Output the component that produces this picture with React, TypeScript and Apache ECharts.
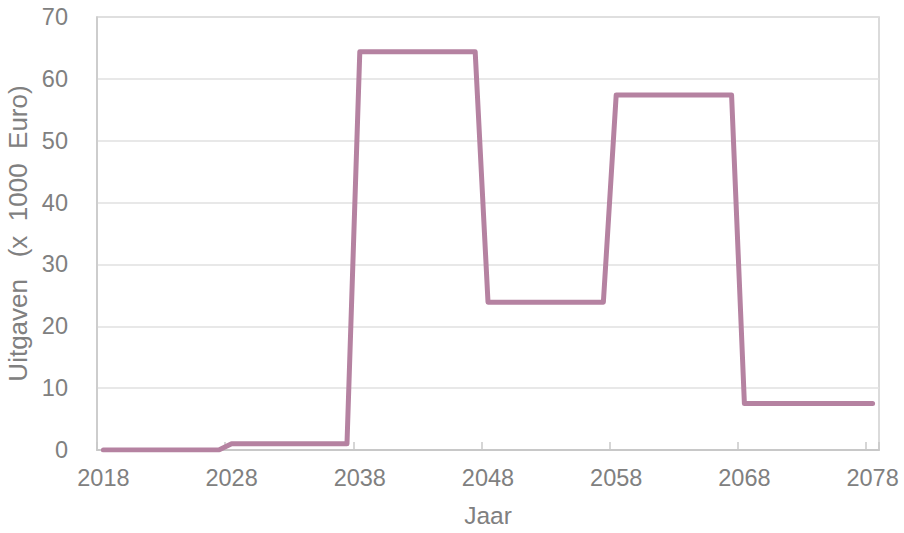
import React, { useEffect, useRef } from "react";
import * as echarts from "echarts";

const years: string[] = [
  "2018", "2019", "2020", "2021", "2022", "2023", "2024", "2025", "2026", "2027",
  "2028", "2029", "2030", "2031", "2032", "2033", "2034", "2035", "2036", "2037",
  "2038", "2039", "2040", "2041", "2042", "2043", "2044", "2045", "2046", "2047",
  "2048", "2049", "2050", "2051", "2052", "2053", "2054", "2055", "2056", "2057",
  "2058", "2059", "2060", "2061", "2062", "2063", "2064", "2065", "2066", "2067",
  "2068", "2069", "2070", "2071", "2072", "2073", "2074", "2075", "2076", "2077",
  "2078",
];

const uitgaven: number[] = [
  0, 0, 0, 0, 0, 0, 0, 0, 0, 0,
  1, 1, 1, 1, 1, 1, 1, 1, 1, 1,
  64.4, 64.4, 64.4, 64.4, 64.4, 64.4, 64.4, 64.4, 64.4, 64.4,
  23.9, 23.9, 23.9, 23.9, 23.9, 23.9, 23.9, 23.9, 23.9, 23.9,
  57.4, 57.4, 57.4, 57.4, 57.4, 57.4, 57.4, 57.4, 57.4, 57.4,
  7.5, 7.5, 7.5, 7.5, 7.5, 7.5, 7.5, 7.5, 7.5, 7.5,
  7.5,
];

const xAxisName = "Jaar";
const yAxisName = "Uitgaven   (x  1000  Euro)";

const FONT = "'Liberation Sans', Arial, sans-serif";
const TEXT = "#808080";

export default function App() {
  const ref = useRef<HTMLDivElement>(null);

  useEffect(() => {
    if (!ref.current) return;
    const chart = echarts.init(ref.current, undefined, { renderer: "svg" });
    chart.setOption({
      animation: false,
      backgroundColor: "#ffffff",
      grid: {
        left: 97,
        right: 25,
        top: 17,
        bottom: 83,
        containLabel: false,
        outerBoundsMode: "none",
        show: true,
        borderColor: "#d0d0d0",
        borderWidth: 1.5,
      },
      xAxis: {
        type: "category",
        data: years,
        boundaryGap: true,
        name: xAxisName,
        nameLocation: "middle",
        nameGap: 53,
        nameTextStyle: { color: TEXT, fontSize: 24.5, fontFamily: FONT },
        axisLine: { lineStyle: { color: "#c8c8c8", width: 2 } },
        axisTick: {
          show: true,
          inside: true,
          length: 8,
          interval: 9,
          alignWithLabel: false,
          lineStyle: { color: "#c8c8c8", width: 1.5 },
        },
        axisLabel: {
          interval: 9,
          margin: 16,
          color: TEXT,
          fontSize: 23.5,
          fontFamily: FONT,
        },
        splitLine: { show: false },
      },
      yAxis: {
        type: "value",
        min: 0,
        max: 70,
        interval: 10,
        name: yAxisName,
        nameLocation: "middle",
        nameGap: 62,
        nameTextStyle: { color: TEXT, fontSize: 26, fontFamily: FONT },
        axisLine: { show: true, lineStyle: { color: "#c8c8c8", width: 1.5 } },
        axisTick: { show: false },
        axisLabel: {
          margin: 29,
          color: TEXT,
          fontSize: 23.5,
          fontFamily: FONT,
        },
        splitLine: { show: true, lineStyle: { color: "#e0e0e0", width: 1.5 } },
      },
      series: [
        {
          type: "line",
          data: uitgaven,
          symbol: "none",
          lineStyle: { color: "#b582a1", width: 5, cap: "round", join: "round" },
        },
      ],
    });
    return () => chart.dispose();
  }, []);

  return (
    <div
      ref={ref}
      style={{ position: "fixed", left: 0, top: 0, width: 904, height: 533 }}
    />
  );
}
